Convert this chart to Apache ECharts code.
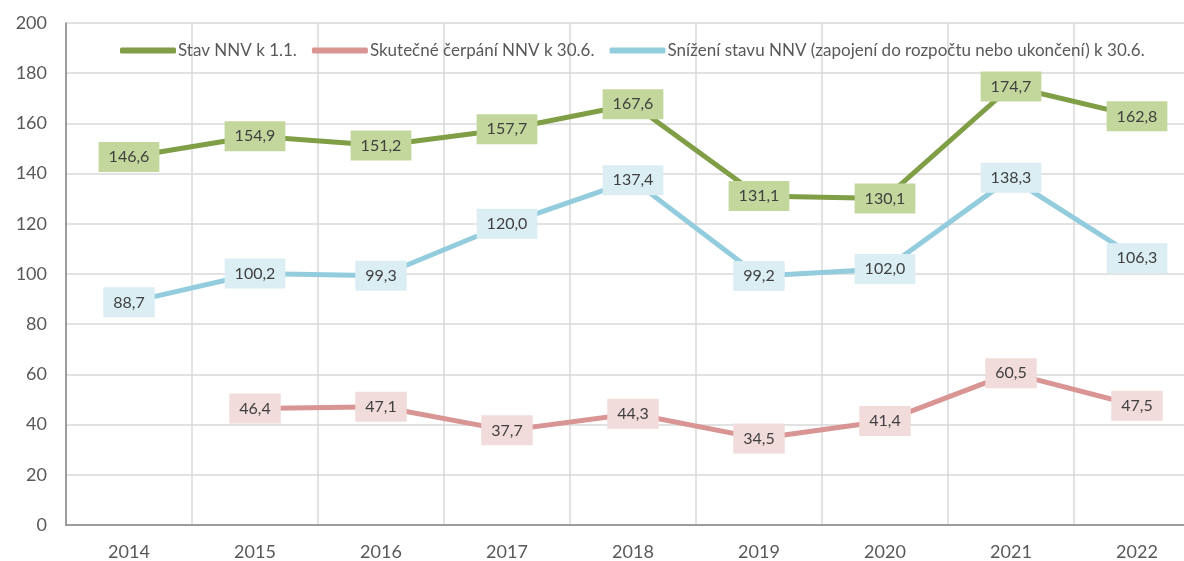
<!DOCTYPE html>
<html>
<head>
<meta charset="utf-8">
<script src="https://cdn.jsdelivr.net/npm/echarts@6/dist/echarts.min.js"></script>
<style>
  html, body { margin: 0; padding: 0; background: #fff; }
  #chart { width: 1184px; height: 561px; }
</style>
</head>
<body>
<div id="chart"></div>
<script>
  // data
  const years = ['2014', '2015', '2016', '2017', '2018', '2019', '2020', '2021', '2022'];
  const stav = [146.6, 154.9, 151.2, 157.7, 167.6, 131.1, 130.1, 174.7, 162.8];
  const cerpani = [null, 46.4, 47.1, 37.7, 44.3, 34.5, 41.4, 60.5, 47.5];
  const snizeni = [88.7, 100.2, 99.3, 120.0, 137.4, 99.2, 102.0, 138.3, 106.3];
  const names = [
    'Stav NNV k 1.1.',
    'Skutečné čerpání NNV k 30.6.',
    'Snížení stavu NNV (zapojení do rozpočtu nebo ukončení) k 30.6.'
  ];

  const font = 'Lato, "Open Sans", sans-serif';

  const mkSeries = (name, data, color, boxColor, z) => ({
    name: name,
    type: 'line',
    data: data,
    z: z,
    symbol: 'circle',
    symbolSize: 0,
    showSymbol: true,
    lineStyle: { color: color, width: 5, cap: 'round', join: 'round' },
    itemStyle: { color: color },
    label: {
      show: true,
      position: 'inside',
      formatter: p => p.value == null ? '' : p.value.toFixed(1).replace('.', ','),
      backgroundColor: boxColor,
      color: '#404040',
      fontFamily: font,
      fontSize: 16,
      padding: [7, 10, 7, 10]
    },
    emphasis: { disabled: true }
  });

  var myChart = echarts.init(document.getElementById('chart'));
  myChart.setOption({
    animation: false,
    textStyle: { fontFamily: font },
    grid: { left: 66, right: -16, top: 23, bottom: 36, outerBoundsMode: 'none', containLabel: false },
    legend: {
      left: 115,
      top: 37,
      itemWidth: 56,
      itemHeight: 6,
      itemGap: 15,
      icon: 'roundRect',
      textStyle: { color: '#595959', fontSize: 17, fontFamily: font, padding: [0, 0, 0, -3] },
      data: names
    },
    xAxis: {
      type: 'category',
      data: years,
      boundaryGap: true,
      axisLine: { lineStyle: { color: '#868686', width: 1.5 } },
      axisTick: { show: false },
      axisLabel: { color: '#595959', fontSize: 18, margin: 18 },
      splitLine: { show: true, lineStyle: { color: '#d9d9d9', width: 1.5 } }
    },
    yAxis: {
      type: 'value',
      min: 0,
      max: 200,
      interval: 20,
      axisLine: { show: true, lineStyle: { color: '#868686', width: 1.5 } },
      axisTick: { show: false },
      axisLabel: { color: '#595959', fontSize: 18, margin: 19 },
      splitLine: { lineStyle: { color: '#d9d9d9', width: 1.5 } }
    },
    series: [
      mkSeries(names[0], stav, '#7f9e46', '#c3d69b', 4),
      mkSeries(names[1], cerpani, '#d99594', '#f2dbdb', 3),
      mkSeries(names[2], snizeni, '#93cddd', '#dbeef4', 2)
    ]
  });
</script>
</body>
</html>
